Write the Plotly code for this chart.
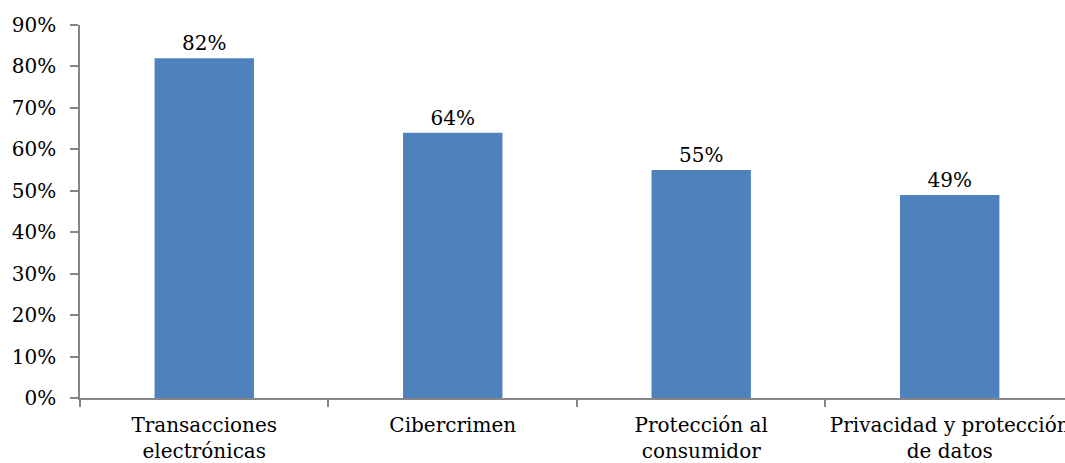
import plotly.graph_objects as go

categories = ["Transacciones<br>electrónicas", "Cibercrimen", "Protección al<br>consumidor", "Privacidad y protección<br>de datos"]
values = [0.82, 0.64, 0.55, 0.49]
labels = ["82%", "64%", "55%", "49%"]
y_ticks = [0, 0.1, 0.2, 0.3, 0.4, 0.5, 0.6, 0.7, 0.8, 0.9]

FONT = "DejaVu Serif"
AX = "#868686"
FS = 20

fig = go.Figure(go.Bar(
    x=categories, y=values, text=labels, textposition="outside",
    textfont=dict(family=FONT, size=FS, color="black"),
    marker=dict(color="#4F81BD", line=dict(width=0)),
    width=0.4, cliponaxis=False,
))

fig.update_layout(
    width=1065, height=463,
    margin=dict(l=80, r=0, t=25, b=65, autoexpand=False),
    paper_bgcolor="white", plot_bgcolor="white",
    showlegend=False,
    font=dict(family=FONT, size=FS, color="black"),
    xaxis=dict(
        type="category", range=[-0.5, 3.464], automargin=False,
        showline=True, linecolor=AX, linewidth=1.5,
        ticks="outside", tickson="boundaries", ticklen=7, tickcolor=AX, tickwidth=1.5,
        showgrid=False, tickfont=dict(family=FONT, size=FS), ticklabelstandoff=8,
    ),
    yaxis=dict(
        range=[0, 0.9], tickvals=y_ticks, tickformat=".0%", automargin=False,
        showline=True, linecolor=AX, linewidth=1.5,
        ticks="outside", ticklen=8, tickcolor=AX, tickwidth=1.5,
        showgrid=False, zeroline=False, ticklabelstandoff=10,
        tickfont=dict(family=FONT, size=FS),
    ),
)

fig.write_html("out.html")
